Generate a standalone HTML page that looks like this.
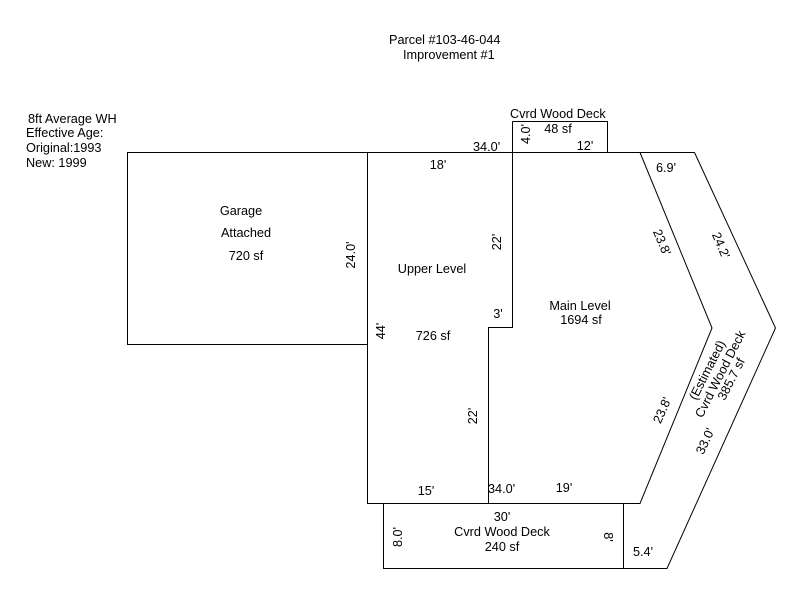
<!DOCTYPE html>
<html><head><meta charset="utf-8"><style>
html,body{margin:0;padding:0;background:#fff;}
svg{display:block;}
text{font-family:"Liberation Sans",Arial,sans-serif;font-size:12.7px;fill:#000;}
</style></head><body>
<svg width="800" height="600" viewBox="0 0 800 600" xmlns="http://www.w3.org/2000/svg">
<g fill="none" stroke="#000" stroke-width="1">
<rect x="127.5" y="152.5" width="240" height="192"/>
<polyline points="367.5,152.5 694.5,152.5"/>
<polyline points="367.5,152.5 367.5,503.5 640,503.5 712,328 640,152.5"/>
<polyline points="512.5,121.5 607.5,121.5 607.5,152.5"/>
<polyline points="512.5,121.5 512.5,327.5 488.5,327.5 488.5,503.5"/>
<polyline points="694.5,152.5 775.5,328 667,568.5 383.5,568.5 383.5,503.5"/>
<line x1="623.5" y1="503.5" x2="623.5" y2="568.5"/>
</g>
<text x="389" y="44">Parcel #103-46-044</text>
<text x="403" y="59">Improvement #1</text>
<text x="28" y="123">8ft Average WH</text>
<text x="26" y="137">Effective Age:</text>
<text x="26" y="152">Original:1993</text>
<text x="26" y="167">New: 1999</text>
<text x="241" y="215" text-anchor="middle">Garage</text>
<text x="246" y="237" text-anchor="middle">Attached</text>
<text x="246" y="260" text-anchor="middle">720 sf</text>
<text transform="translate(355,255) rotate(-90)" text-anchor="middle">24.0'</text>
<text x="438" y="169" text-anchor="middle">18'</text>
<text x="473" y="151">34.0'</text>
<text x="510" y="118">Cvrd Wood Deck</text>
<text x="558" y="133" text-anchor="middle">48 sf</text>
<text transform="translate(530,134) rotate(-90)" text-anchor="middle">4.0'</text>
<text x="585" y="150" text-anchor="middle">12'</text>
<text transform="translate(501,242) rotate(-90)" text-anchor="middle">22'</text>
<text x="432" y="273" text-anchor="middle">Upper Level</text>
<text x="498" y="318" text-anchor="middle">3'</text>
<text x="433" y="340" text-anchor="middle">726 sf</text>
<text transform="translate(385,331) rotate(-90)" text-anchor="middle">44'</text>
<text x="580" y="310" text-anchor="middle">Main Level</text>
<text x="581" y="324" text-anchor="middle">1694 sf</text>
<text x="666" y="172" text-anchor="middle">6.9'</text>
<text transform="translate(658,244) rotate(67)" text-anchor="middle">23.8'</text>
<text transform="translate(717,247) rotate(67)" text-anchor="middle">24.2'</text>
<text transform="translate(666,412) rotate(-66)" text-anchor="middle">23.8'</text>
<text transform="translate(711,372) rotate(-63)" text-anchor="middle">(Estimated)</text>
<text transform="translate(724,376) rotate(-63)" text-anchor="middle">Cvrd Wood Deck</text>
<text transform="translate(735,381) rotate(-63)" text-anchor="middle">385.7 sf</text>
<text transform="translate(709,443) rotate(-65)" text-anchor="middle">33.0'</text>
<text transform="translate(477,416) rotate(-90)" text-anchor="middle">22'</text>
<text x="426" y="495" text-anchor="middle">15'</text>
<text x="488" y="493">34.0'</text>
<text x="564" y="492" text-anchor="middle">19'</text>
<text x="502" y="521" text-anchor="middle">30'</text>
<text x="502" y="536" text-anchor="middle">Cvrd Wood Deck</text>
<text x="502" y="551" text-anchor="middle">240 sf</text>
<text transform="translate(402,537) rotate(-90)" text-anchor="middle">8.0'</text>
<text transform="translate(604,537) rotate(90)" text-anchor="middle">8'</text>
<text x="643" y="556" text-anchor="middle">5.4'</text>
</svg>
</body></html>
